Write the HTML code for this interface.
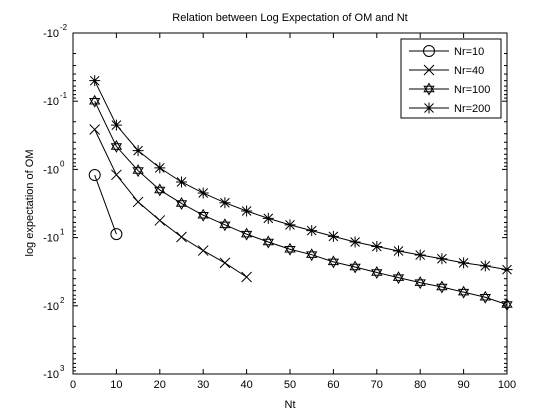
<!DOCTYPE html>
<html><head><meta charset="utf-8"><style>
body{margin:0;background:#fff;}
svg{display:block;font-family:"Liberation Sans",Arial,sans-serif;}
</style></head><body>
<svg id="chart" width="560" height="420" viewBox="0 0 560 420" xmlns="http://www.w3.org/2000/svg">
<rect width="560" height="420" fill="#fff"/>
<text x="290" y="21" font-size="11" text-anchor="middle">Relation between Log Expectation of OM and Nt</text>
<text x="290" y="408" font-size="11" text-anchor="middle">Nt</text>
<text transform="translate(33,203) rotate(-90)" font-size="11" text-anchor="middle">log expectation of OM</text>
<g id="axes"></g>
<g id="series"></g>
<g id="legend"></g>
</svg>
<script>
const xTicks=[0,10,20,30,40,50,60,70,80,90,100];
const yExps=[-2,-1,0,1,2,3];
const nt10=[5,10];
const nr10=[1.21,8.9];
const nt40=[5,10,15,20,25,30,35,40];
const nr40=[0.26,1.2,3.0,5.6,9.8,15.5,23.5,37.8];
const nt100=[5,10,15,20,25,30,35,40,45,50,55,60,65,70,75,80,85,90,95,100];
const nr100=[0.1,0.46,1.04,2.0,3.16,4.7,6.5,8.9,11.6,14.8,17.8,22.7,27,32.5,38.6,45.7,53,63,75,96];
const nr200=[0.05,0.224,0.53,0.95,1.53,2.22,3.08,4.07,5.22,6.5,7.9,9.6,11.6,13.5,15.7,18,20.4,23.5,26,29.5];
const legendLabels=["Nr=10","Nr=40","Nr=100","Nr=200"];

const L=73,R=507,T=33,B=374;
const NS="http://www.w3.org/2000/svg";
function X(v){return L+(v/100)*(R-L);}
function Y(m){return T+(Math.log10(m)+2)/5*(B-T);}
function mk(tag,attrs,parent){const e=document.createElementNS(NS,tag);for(const k in attrs)e.setAttribute(k,attrs[k]);parent.appendChild(e);return e;}
const axes=document.getElementById('axes'),series=document.getElementById('series'),legend=document.getElementById('legend');

const box=mk('rect',{x:L,y:T,width:R-L,height:B-T,fill:'none',stroke:'#000','stroke-width':1},axes);


xTicks.forEach(t=>{
  const x=X(t);
  mk('line',{x1:x,y1:B,x2:x,y2:B-5,stroke:'#000'},axes);
  mk('line',{x1:x,y1:T,x2:x,y2:T+5,stroke:'#000'},axes);
  const tx=mk('text',{x:x,y:B+14,'font-size':11,'text-anchor':'middle'},axes);
  tx.textContent=t;
  
  
});
yExps.forEach((e,i)=>{
  const y=Y(Math.pow(10,e));
  mk('line',{x1:L,y1:y,x2:L+5,y2:y,stroke:'#000'},axes);
  mk('line',{x1:R,y1:y,x2:R-5,y2:y,stroke:'#000'},axes);
  const tx=mk('text',{x:L-14,y:y+4,'font-size':11,'text-anchor':'end'},axes);
  
  
  tx.textContent='-10';
  const sup=mk('text',{x:L-13,y:y-3,'font-size':8},axes);
  sup.textContent=e;
  
  
  if(i<yExps.length-1){
    for(let k=2;k<10;k++){
      const yy=Y(k*Math.pow(10,e));
      mk('line',{x1:L,y1:yy,x2:L+3,y2:yy,stroke:'#000'},axes);
      mk('line',{x1:R,y1:yy,x2:R-3,y2:yy,stroke:'#000'},axes);
    }
  }
});

function marker(type,x,y,g){
  const s={stroke:'#000',fill:'none','stroke-width':1};
  if(type==='o'){mk('circle',Object.assign({cx:x,cy:y,r:5.5},s),g);}
  else if(type==='x'){mk('path',Object.assign({d:`M${x-5},${y-5}L${x+5},${y+5}M${x-5},${y+5}L${x+5},${y-5}`},s),g);}
  else if(type==='h'){
    const r=5.5,p1=[],p2=[];
    for(let k=0;k<3;k++){const a=-Math.PI/2+k*2*Math.PI/3;p1.push((x+r*Math.cos(a)).toFixed(1)+','+(y+r*Math.sin(a)).toFixed(1));
      const b=Math.PI/2+k*2*Math.PI/3;p2.push((x+r*Math.cos(b)).toFixed(1)+','+(y+r*Math.sin(b)).toFixed(1));}
    mk('polygon',Object.assign({points:p1.join(' ')},s),g);mk('polygon',Object.assign({points:p2.join(' ')},s),g);
  } else {
    mk('path',Object.assign({d:`M${x-5.5},${y}L${x+5.5},${y}M${x},${y-5.5}L${x},${y+5.5}M${x-4.5},${y-4.5}L${x+4.5},${y+4.5}M${x-4.5},${y+4.5}L${x+4.5},${y-4.5}`},s),g);
    mk('circle',{cx:x,cy:y,r:1.5,fill:'#000'},g);
  }
}
const defs=[["o",nt10,nr10,'series-nr10'],["x",nt40,nr40,'series-nr40'],["h",nt100,nr100,'series-nr100'],["*",nt100,nr200,'series-nr200']];
defs.forEach(([m,xs,ys,name])=>{
  const g=mk('g',{},series);
  
  
  mk('polyline',{points:xs.map((v,i)=>X(v)+','+Y(ys[i])).join(' '),fill:'none',stroke:'#000'},g);
  xs.forEach((v,i)=>marker(m,X(v),Y(ys[i]),g));
});
const lb=mk('rect',{x:401,y:39,width:100,height:79,fill:'#fff',stroke:'#000'},legend);


legendLabels.forEach((lab,i)=>{
  const y=51+i*19;
  const g=mk('g',{},legend);
  
  
  mk('line',{x1:409,y1:y,x2:449,y2:y,stroke:'#000'},g);
  marker(defs[i][0],429,y,g);
  const t=mk('text',{x:454,y:y+4,'font-size':11},g);
  t.textContent=lab;
});
</script>
</body></html>
